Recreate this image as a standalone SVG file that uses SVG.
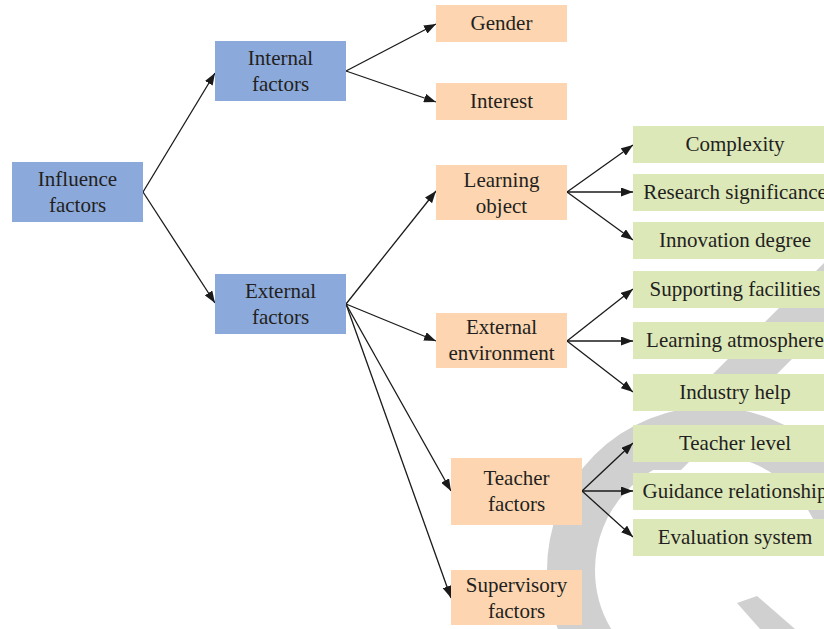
<svg xmlns="http://www.w3.org/2000/svg" width="824" height="629" viewBox="0 0 824 629">
<style>
.blue{fill:#8baadb}
.peach{fill:#fdd6b1}
.green{fill:#dde8b9}
text{font-family:"Liberation Serif","Times New Roman",serif;font-size:21px;fill:#231f20;text-anchor:middle}
.conn line{stroke:#1a1a1a;stroke-width:1.3;marker-end:url(#arr)}
.wm{fill:none;stroke:#d0d0d0;stroke-width:48}
.wmf{fill:#d0d0d0}
</style>
<defs>
<marker id="arr" markerUnits="userSpaceOnUse" markerWidth="13" markerHeight="9" refX="12" refY="4.5" orient="auto">
<path d="M0,0 L12,4.5 L0,9 z" fill="#1a1a1a"/>
</marker>
</defs>
<rect width="824" height="629" fill="#ffffff"/>
<g id="watermark">
<path class="wm" d="M849,570 A139,139 0 1,0 571,570 A139,139 0 0,0 600,655"/>
<path class="wmf" d="M837,250 L901,250 L681,470 L617,470 Z"/>
<path class="wmf" d="M737,603 L757,596 L795,629 L760,629 Z"/>
</g>
<g class="conn" id="connectors">
<line x1="143" y1="192" x2="215" y2="73"/>
<line x1="143" y1="192" x2="215" y2="303"/>
<line x1="346" y1="71" x2="436" y2="24"/>
<line x1="346" y1="71" x2="436" y2="102"/>
<line x1="346" y1="304" x2="436" y2="191"/>
<line x1="346" y1="304" x2="436" y2="341"/>
<line x1="346" y1="304" x2="451" y2="491"/>
<line x1="346" y1="304" x2="451" y2="598"/>
<line x1="567" y1="192" x2="633" y2="145"/>
<line x1="567" y1="192" x2="633" y2="192"/>
<line x1="567" y1="192" x2="633" y2="240"/>
<line x1="567" y1="341" x2="633" y2="289"/>
<line x1="567" y1="341" x2="633" y2="341"/>
<line x1="567" y1="341" x2="633" y2="392"/>
<line x1="582" y1="491" x2="633" y2="443"/>
<line x1="582" y1="491" x2="633" y2="491"/>
<line x1="582" y1="491" x2="633" y2="537"/>
</g>
<g id="influence"><rect class="blue" x="12" y="162" width="131" height="60"/><text x="77.5" y="186">Influence</text><text x="77.5" y="212">factors</text></g>
<g id="internal"><rect class="blue" x="215" y="41" width="131" height="60"/><text x="280.5" y="65">Internal</text><text x="280.5" y="91">factors</text></g>
<g id="external"><rect class="blue" x="215" y="274" width="131" height="60"/><text x="280.5" y="298">External</text><text x="280.5" y="324">factors</text></g>
<g id="gender"><rect class="peach" x="436" y="5" width="131" height="37"/><text x="501.5" y="30">Gender</text></g>
<g id="interest"><rect class="peach" x="436" y="83" width="131" height="37"/><text x="501.5" y="108">Interest</text></g>
<g id="learning-object"><rect class="peach" x="436" y="165" width="131" height="55"/><text x="501.5" y="187">Learning</text><text x="501.5" y="213">object</text></g>
<g id="external-environment"><rect class="peach" x="436" y="313" width="131" height="55"/><text x="501.5" y="334">External</text><text x="501.5" y="360">environment</text></g>
<g id="teacher-factors"><rect class="peach" x="451" y="458" width="131" height="67"/><text x="516.5" y="485">Teacher</text><text x="516.5" y="511">factors</text></g>
<g id="supervisory-factors"><rect class="peach" x="451" y="570" width="131" height="55"/><text x="516.5" y="592">Supervisory</text><text x="516.5" y="618">factors</text></g>
<g id="complexity"><rect class="green" x="633" y="126" width="204" height="37"/><text x="735" y="151">Complexity</text></g>
<g id="research-significance"><rect class="green" x="633" y="174" width="204" height="37"/><text x="735" y="199">Research significance</text></g>
<g id="innovation-degree"><rect class="green" x="633" y="222" width="204" height="37"/><text x="735" y="247">Innovation degree</text></g>
<g id="supporting-facilities"><rect class="green" x="633" y="271" width="204" height="37"/><text x="735" y="296">Supporting facilities</text></g>
<g id="learning-atmosphere"><rect class="green" x="633" y="322" width="204" height="37"/><text x="735" y="347">Learning atmosphere</text></g>
<g id="industry-help"><rect class="green" x="633" y="374" width="204" height="37"/><text x="735" y="399">Industry help</text></g>
<g id="teacher-level"><rect class="green" x="633" y="425" width="204" height="37"/><text x="735" y="450">Teacher level</text></g>
<g id="guidance-relationship"><rect class="green" x="633" y="473" width="204" height="37"/><text x="735" y="498">Guidance relationship</text></g>
<g id="evaluation-system"><rect class="green" x="633" y="519" width="204" height="37"/><text x="735" y="544">Evaluation system</text></g>
</svg>
